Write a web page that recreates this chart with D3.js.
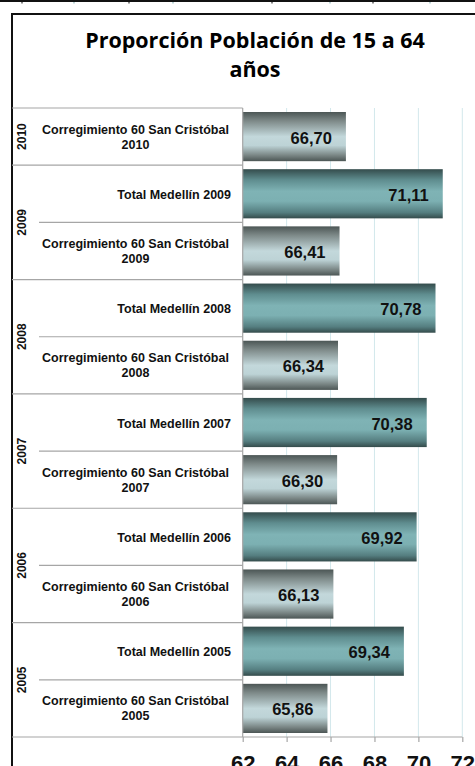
<!DOCTYPE html>
<html>
<head>
<meta charset="utf-8">
<script src="https://cdn.jsdelivr.net/npm/d3@7/dist/d3.min.js"></script>
<style>
  body { margin: 0; background: #fff; }
  svg { display: block; }
</style>
</head>
<body>
<script>
// Values
var years = [2010, 2009, 2008, 2007, 2006, 2005];
var totalMedellin = [null, 71.11, 70.78, 70.38, 69.92, 69.34];
var sanCristobal = [66.70, 66.41, 66.34, 66.30, 66.13, 65.86];
var xTicks = [62, 64, 66, 68, 70, 72];
var titleLines = ["Proporción Población de 15 a 64", "años"];

var svgWidth = 475;
var svgHeight = 766;

// plot area
var plot = { left: 242.7, right: 462.3, top: 108, bottom: 737 };
var frameLeft = 12;
var frameTop = 14;

var svg = d3.select("body")
  .append("svg")
  .attr("width", svgWidth)
  .attr("height", svgHeight);

// gradients for the bars
var defs = svg.append("defs");
var grayGrad = defs.append("linearGradient")
  .attr("id", "gradGray")
  .attr("x1", 0).attr("y1", 0).attr("x2", 0).attr("y2", 1);
[["0%", "#4c5655"], ["18%", "#7d8988"], ["50%", "#c3d8db"], ["68%", "#bdd3d6"], ["88%", "#7a8685"], ["100%", "#4c5655"]]
  .forEach(s => grayGrad.append("stop").attr("offset", s[0]).attr("stop-color", s[1]));
var tealGrad = defs.append("linearGradient")
  .attr("id", "gradTeal")
  .attr("x1", 0).attr("y1", 0).attr("x2", 0).attr("y2", 1);
[["0%", "#344c4c"], ["22%", "#5f8d8f"], ["45%", "#7fb3b5"], ["65%", "#7cb0b2"], ["88%", "#557e80"], ["100%", "#344b4b"]]
  .forEach(s => tealGrad.append("stop").attr("offset", s[0]).attr("stop-color", s[1]));

// rows from top to bottom
var rows = [];
years.forEach(function(y, i) {
  if (totalMedellin[i] != null) {
    rows.push({ id: "t" + y, year: y, value: totalMedellin[i], kind: "total" });
  }
  rows.push({ id: "c" + y, year: y, value: sanCristobal[i], kind: "corr" });
});

var xScale = d3.scaleLinear()
  .domain([62, 72])
  .range([plot.left, plot.right]);

var yScale = d3.scaleBand()
  .domain(rows.map(d => d.id))
  .range([plot.top, plot.bottom])
  .paddingInner(0.14)
  .paddingOuter(0.07);

var step = yScale.step();

// strip of the chart above (cut off)
svg.append("rect")
  .attr("x", 0).attr("y", 0)
  .attr("width", svgWidth).attr("height", 2)
  .attr("fill", "#111");
[22, 74, 129, 173, 272, 330, 373, 430].forEach(function(x, i) {
  svg.append("line")
    .attr("x1", x).attr("x2", x)
    .attr("y1", 2).attr("y2", 3.5)
    .attr("stroke", i % 2 ? "#8fb9bc" : "#333")
    .attr("stroke-width", 1.2);
});

// chart frame
svg.append("path")
  .attr("d", `M${frameLeft},${svgHeight} V${frameTop} H${svgWidth}`)
  .attr("fill", "none")
  .attr("stroke", "#111")
  .attr("stroke-width", 2);

// title
svg.append("g")
  .selectAll("text")
  .data(titleLines)
  .enter()
  .append("text")
  .attr("x", 255)
  .attr("y", (d, i) => 47.7 + i * 29.3)
  .attr("text-anchor", "middle")
  .attr("font-family", "'Open Sans', sans-serif")
  .attr("font-weight", "bold")
  .attr("font-size", "21.5px")
  .attr("fill", "#000")
  .text(d => d);

// vertical gridlines
svg.append("g")
  .selectAll("line")
  .data(xTicks.slice(1))
  .enter()
  .append("line")
  .attr("x1", d => xScale(d)).attr("x2", d => xScale(d))
  .attr("y1", plot.top).attr("y2", plot.bottom)
  .attr("stroke", "#d3e8ec")
  .attr("stroke-width", 1);

// category area lines
var catLines = svg.append("g")
  .attr("stroke", "#a6a6a6")
  .attr("stroke-width", 1.2);

catLines.append("line")
  .attr("x1", frameLeft).attr("x2", plot.left)
  .attr("y1", plot.top).attr("y2", plot.top);

rows.forEach(function(d, i) {
  if (i === 0) return;
  var yb = plot.top + i * step;
  var sameYear = rows[i - 1].year === d.year;
  catLines.append("line")
    .attr("x1", sameYear ? 39 : frameLeft)
    .attr("x2", plot.left)
    .attr("y1", yb).attr("y2", yb);
});

// bars
svg.append("g")
  .selectAll("rect")
  .data(rows)
  .enter()
  .append("rect")
  .attr("x", xScale(62))
  .attr("y", d => yScale(d.id))
  .attr("width", d => xScale(d.value) - xScale(62))
  .attr("height", yScale.bandwidth())
  .attr("fill", d => d.kind === "total" ? "url(#gradTeal)" : "url(#gradGray)");

// value labels
svg.append("g")
  .selectAll("text")
  .data(rows)
  .enter()
  .append("text")
  .attr("x", d => xScale(d.value) - 14)
  .attr("y", d => yScale(d.id) + yScale.bandwidth() / 2 + 7)
  .attr("text-anchor", "end")
  .attr("font-family", "'Liberation Sans', Arial, sans-serif")
  .attr("font-weight", "bold")
  .attr("font-size", "16.5px")
  .attr("fill", "#111")
  .text(d => d.value.toFixed(2).replace(".", ","));

// axes lines
svg.append("line")
  .attr("x1", plot.left).attr("x2", plot.left)
  .attr("y1", plot.top).attr("y2", plot.bottom)
  .attr("stroke", "#a6a6a6")
  .attr("stroke-width", 1.2);

var xAxis = d3.axisBottom(xScale)
  .tickValues(xTicks)
  .tickSize(5)
  .tickFormat(d3.format("d"));

var xAxisG = svg.append("g")
  .attr("transform", `translate(0, ${plot.bottom})`)
  .call(xAxis);

xAxisG.select(".domain").remove();
xAxisG.selectAll(".tick line")
  .attr("stroke", "#a6a6a6")
  .attr("stroke-width", 1.2);
xAxisG.selectAll(".tick text")
  .attr("y", 34)
  .attr("dy", null)
  .attr("font-family", "'Liberation Sans', Arial, sans-serif")
  .attr("font-weight", "bold")
  .attr("font-size", "22px")
  .attr("fill", "#111");

svg.append("line")
  .attr("x1", frameLeft).attr("x2", plot.right)
  .attr("y1", plot.bottom).attr("y2", plot.bottom)
  .attr("stroke", "#a6a6a6")
  .attr("stroke-width", 1.2);

// category labels
var labelG = svg.append("g")
  .attr("font-family", "'Liberation Sans', Arial, sans-serif")
  .attr("font-weight", "bold")
  .attr("font-size", "12.5px")
  .attr("fill", "#111");

rows.forEach(function(d) {
  var cy = yScale(d.id) + yScale.bandwidth() / 2;
  if (d.kind === "total") {
    labelG.append("text")
      .attr("x", 231)
      .attr("y", cy + 5)
      .attr("text-anchor", "end")
      .text("Total Medellín " + d.year);
  } else {
    var t = labelG.append("text")
      .attr("text-anchor", "middle");
    t.append("tspan").attr("x", 135.5).attr("y", cy - 3).text("Corregimiento 60 San Cristóbal");
    t.append("tspan").attr("x", 135.5).attr("y", cy + 12).text(d.year);
  }
});

// year labels (rotated)
years.forEach(function(y) {
  var yearRows = rows.filter(r => r.year === y);
  var top = yScale(yearRows[0].id) - (step - yScale.bandwidth()) / 2;
  var bottom = top + yearRows.length * step;
  var cy = (top + bottom) / 2;
  labelG.append("text")
    .attr("transform", `translate(26, ${cy}) rotate(-90)`)
    .attr("text-anchor", "middle")
    .attr("font-size", "12px")
    .text(y);
});
</script>
</body>
</html>
